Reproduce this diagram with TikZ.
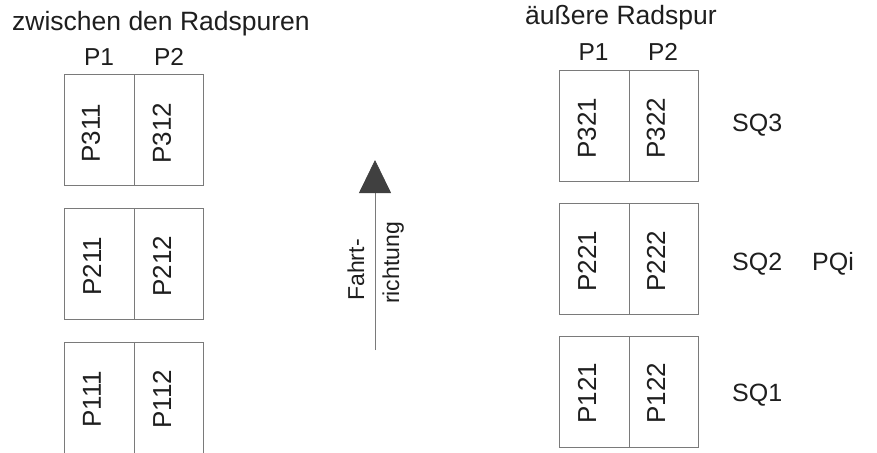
\documentclass[tikz,border=0pt]{standalone}
\usepackage{fontspec}
\setmainfont{Liberation Sans}
\usetikzlibrary{arrows.meta}
\definecolor{inkc}{HTML}{1E1E1E}
\definecolor{linec}{HTML}{7A7A7A}
\definecolor{headc}{HTML}{404040}
\tikzset{
  cell/.style={draw=linec, line width=0.8pt, minimum width=69.5pt, minimum height=111pt, inner sep=0pt, anchor=north west},
  celllabel/.style={text=inkc, rotate=90, inner sep=0pt, font=\fontsize{26}{28}\selectfont},
  collabel/.style={text=inkc, anchor=base, inner sep=0pt, font=\fontsize{24.5}{26}\selectfont},
  heading/.style={text=inkc, anchor=base west, inner sep=0pt, font=\fontsize{26.5}{28}\selectfont},
  sqlabel/.style={text=inkc, anchor=base west, inner sep=0pt, font=\fontsize{25}{27}\selectfont},
  dirlabel/.style={text=inkc, rotate=90, anchor=base, inner sep=0pt, font=\fontsize{23}{25}\selectfont}
}
\begin{document}
\begin{tikzpicture}[x=1pt,y=1pt]
\useasboundingbox (0,0) rectangle (877,-452);
% headings
\node[heading] (hleft) at (12,-31) {zwischen den Radspuren};
\node[heading] (hright) at (525,-25) {äußere Radspur};
% column labels
\node[collabel] (lp1) at (99,-65) {P1};
\node[collabel] (lp2) at (169,-65) {P2};
\node[collabel] (rp1) at (593.5,-60) {P1};
\node[collabel] (rp2) at (663,-60) {P2};
% left cells
\node[cell] (c311) at (64,-74) {};
\node[cell] (c312) at (133.5,-74) {};
\node[cell] (c211) at (64,-207.5) {};
\node[cell] (c212) at (133.5,-207.5) {};
\node[cell] (c111) at (64,-341.5) {};
\node[cell] (c112) at (133.5,-341.5) {};
% right cells
\node[cell] (c321) at (559,-69.5) {};
\node[cell] (c322) at (628.5,-69.5) {};
\node[cell] (c221) at (559,-203) {};
\node[cell] (c222) at (628.5,-203) {};
\node[cell] (c121) at (559,-336) {};
\node[cell] (c122) at (628.5,-336) {};
% cell labels
\node[celllabel] (t311) at (91,-133) {P311};
\node[celllabel] (t312) at (162,-133) {P312};
\node[celllabel] (t211) at (92,-266) {P211};
\node[celllabel] (t212) at (162,-266) {P212};
\node[celllabel] (t111) at (92,-399) {P111};
\node[celllabel] (t112) at (162,-399) {P112};
\node[celllabel] (t321) at (587,-128) {P321};
\node[celllabel] (t322) at (656,-128) {P322};
\node[celllabel] (t221) at (587,-261) {P221};
\node[celllabel] (t222) at (656,-261) {P222};
\node[celllabel] (t121) at (587,-393) {P121};
\node[celllabel] (t122) at (656,-393) {P122};
% SQ labels
\node[sqlabel] (sq3) at (732,-131) {SQ3};
\node[sqlabel] (sq2) at (732,-270) {SQ2};
\node[sqlabel] (sq1) at (732,-401) {SQ1};
\node[sqlabel] (pqi) at (812,-270) {PQi};
% direction arrow
\coordinate (atail) at (375,-350);
\coordinate (atip) at (375,-160);
\draw[draw=linec, line width=0.8pt, -{Triangle[width=32pt,length=33pt,color=headc,fill=headc]}] (atail) -- (atip);
\node[dirlabel] (fahrt) at (364,-270) {Fahrt-};
\node[dirlabel] (richt) at (399,-263) {richtung};
\end{tikzpicture}
\end{document}
